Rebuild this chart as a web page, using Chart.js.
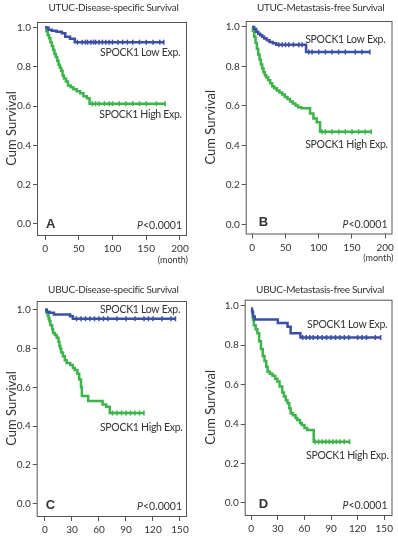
<!DOCTYPE html>
<html>
<head>
<meta charset="utf-8">
<script src="https://cdn.jsdelivr.net/npm/chart.js@4.4.1/dist/chart.umd.min.js"></script>
<style>
body{margin:0;background:#fff;}
#wrap{position:relative;width:398px;height:538px;}
canvas{position:absolute;}
</style>
</head>
<body>
<div id="wrap">
<canvas id="cA" width="199" height="268" style="left:0;top:0"></canvas>
<canvas id="cB" width="199" height="268" style="left:199px;top:0"></canvas>
<canvas id="cC" width="199" height="270" style="left:0;top:268px"></canvas>
<canvas id="cD" width="199" height="270" style="left:199px;top:268px"></canvas>
</div>
<script>
// survival steps (months, cum survival)
const aLowT  = [0, 5, 10, 17, 25, 30, 37, 44, 176];
const aLowS  = [1, 0.988, 0.983, 0.978, 0.97, 0.952, 0.942, 0.925, 0.925];
const aLowC  = [48, 55, 60, 63, 68, 72, 75, 80, 85, 90, 95, 100, 108, 115, 122, 130, 140, 150, 160, 170, 176];
const aHighT = [0, 2, 4, 6, 8, 10, 12, 14, 16, 18, 20, 22, 24, 26, 28, 31, 34, 38, 42, 47, 52, 57, 62, 66, 178];
const aHighS = [1, 0.98, 0.96, 0.945, 0.925, 0.905, 0.885, 0.865, 0.85, 0.83, 0.81, 0.795, 0.78, 0.755, 0.74, 0.725, 0.705, 0.695, 0.685, 0.675, 0.665, 0.65, 0.64, 0.612, 0.612];
const aHighC = [70, 75, 80, 88, 95, 100, 110, 120, 130, 140, 150, 165, 178];

const bLowT  = [0, 3, 6, 9, 12, 15, 18, 22, 26, 31, 36, 81, 177];
const bLowS  = [1, 0.99, 0.975, 0.965, 0.958, 0.95, 0.941, 0.932, 0.924, 0.917, 0.91, 0.873, 0.873];
const bLowC  = [40, 45, 50, 55, 62, 70, 75, 85, 90, 100, 110, 120, 130, 140, 155, 165, 177];
const bHighT = [0, 1, 3, 5, 7, 9, 11, 13, 15, 17, 19, 21, 24, 27, 30, 33, 37, 41, 45, 49, 53, 57, 61, 65, 69, 74, 87, 92, 97, 102, 179];
const bHighS = [1, 0.98, 0.95, 0.92, 0.89, 0.86, 0.835, 0.81, 0.79, 0.77, 0.755, 0.745, 0.73, 0.715, 0.7, 0.69, 0.678, 0.668, 0.658, 0.645, 0.635, 0.622, 0.612, 0.602, 0.594, 0.588, 0.562, 0.536, 0.518, 0.47, 0.47];
const bHighC = [105, 110, 120, 130, 140, 150, 160, 170, 179];

const cLowT  = [0, 2, 5, 10, 28, 31, 145];
const cLowS  = [1, 0.99, 0.985, 0.976, 0.966, 0.954, 0.954];
const cLowC  = [35, 40, 45, 50, 55, 60, 65, 70, 80, 90, 100, 110, 115, 120, 130, 140, 145];
const cHighT = [0, 2, 3, 4, 5, 6, 8, 9, 11, 13, 15, 16, 17, 18, 20, 22, 24, 28, 31, 33, 36, 38, 40, 41, 48, 64, 68, 72, 110];
const cHighS = [1, 0.985, 0.97, 0.955, 0.94, 0.92, 0.9, 0.88, 0.87, 0.855, 0.835, 0.815, 0.8, 0.78, 0.76, 0.74, 0.725, 0.715, 0.7, 0.69, 0.67, 0.64, 0.6, 0.555, 0.53, 0.512, 0.5, 0.468, 0.468];
const cHighC = [75, 80, 85, 90, 95, 100, 105, 110];

const dLowT  = [0, 1, 2, 4, 30, 41, 44.5, 55.5, 146];
const dLowS  = [0.985, 0.97, 0.945, 0.93, 0.912, 0.893, 0.86, 0.838, 0.838];
const dLowC  = [58, 62, 66, 70, 75, 80, 85, 90, 95, 100, 105, 110, 120, 125, 130, 140, 146];
const dHighT = [0, 2, 3, 5, 7, 9, 11, 13, 15, 17, 18.5, 21, 24, 27, 29.5, 32, 35, 37, 39, 41, 43, 44.5, 47, 50, 52, 55, 57, 60, 63, 70.5, 111];
const dHighS = [0.96, 0.93, 0.9, 0.88, 0.86, 0.82, 0.78, 0.745, 0.72, 0.69, 0.665, 0.655, 0.645, 0.63, 0.615, 0.59, 0.56, 0.54, 0.52, 0.505, 0.48, 0.455, 0.445, 0.43, 0.42, 0.405, 0.395, 0.38, 0.37, 0.31, 0.31];
const dHighC = [72, 76, 80, 84, 88, 92, 96, 100, 105, 111];

const yTicks = [0, 0.2, 0.4, 0.6, 0.8, 1.0];
const xTicksUT = [0, 50, 100, 150, 200];
const xTicksUB = [0, 30, 60, 90, 120, 150];

const BLUE = "#3b4fa6";
const GREEN = "#3cb44a";
const TXT = "#333";
const AX = "#555";

Chart.defaults.font.family = "Lato";
Chart.defaults.color = TXT;

const steps = (T,S) => T.map((t,i)=>({x:t, y:S[i]}));
function survAt(T,S,t){
  let v = S[0];
  T.forEach((tt,i)=>{ if(tt<=t) v=S[i]; });
  return v;
}
const censor = (T,S,C) => C.map(t=>({x:t, y:survAt(T,S,t)}));

// box stroke + all the text that sits on the panel
const panelText = {
  id:"panelText",
  beforeDatasetsDraw(chart, args, o){
    const {ctx, chartArea:a} = chart;
    ctx.save();
    ctx.strokeStyle = AX; ctx.lineWidth = 1;
    ctx.strokeRect(a.left+0.5, a.top+0.5, a.right-a.left-1, a.bottom-a.top);
    ctx.restore();
  },
  afterDraw(chart, args, o){
    const {ctx, chartArea:a, scales} = chart;
    ctx.save();
    ctx.fillStyle = TXT;
    ctx.textBaseline = "middle";

    ctx.letterSpacing = "-0.3px";
    ctx.font = "10px Lato";
    ctx.textAlign = "center";
    ctx.fillText(o.title, (a.left+a.right)/2 + 1.5, o.titleY);

    ctx.textAlign = "left";
    ctx.font = "10.5px Lato";
    o.labels.forEach(l=>{
      ctx.fillText(l.text, scales.x.getPixelForValue(l.x), scales.y.getPixelForValue(l.y));
    });
    ctx.letterSpacing = "0px";

    ctx.font = "bold 13px 'Liberation Sans'";
    ctx.fillText(o.letter, a.left + o.letterDx, a.bottom - 11);

    ctx.font = "10.5px Lato";
    const rest = "<0.0001";
    const wr = ctx.measureText(rest).width;
    ctx.textAlign = "right";
    ctx.fillText(rest, a.right - 5, a.bottom - 9);
    ctx.font = "italic 10.5px Lato";
    ctx.fillText("P", a.right - 5 - wr, a.bottom - 9);

    if(o.unit){
      ctx.font = "9px Lato";
      ctx.textAlign = "right";
      ctx.fillText(o.unit, a.right + 1, a.bottom + 25);
    }
    ctx.restore();
  }
};

const panels = [
  {canvas:"cA", title:"UTUC-Disease-specific Survival", letter:"A", letterDx:9, titleY:8,
   box:{l:37, t:22, r:187, b:235}, xMin:-11.9, xMax:210.4, yMin:-0.056, yMax:1.0275, xTicks:xTicksUT, unit:"(month)",
   low:[aLowT,aLowS,aLowC], high:[aHighT,aHighS,aHighC],
   labels:[{text:"SPOCK1 Low Exp.", x:81.5, y:0.87},{text:"SPOCK1 High Exp.", x:80.4, y:0.554}]},
  {canvas:"cB", title:"UTUC-Metastasis-free Survival", letter:"B", letterDx:13, titleY:8,
   box:{l:46.7, t:21, r:195.7, b:233.5}, xMin:-9.8, xMax:211, yMin:-0.0455, yMax:1.03, xTicks:xTicksUT, unit:"(month)",
   low:[bLowT,bLowS,bLowC], high:[bHighT,bHighS,bHighC],
   labels:[{text:"SPOCK1 Low Exp.", x:79.7, y:0.938},{text:"SPOCK1 High Exp.", x:79.7, y:0.406}]},
  {canvas:"cC", title:"UBUC-Disease-specific Survival", letter:"C", letterDx:9, titleY:22,
   box:{l:36.7, t:33, r:187, b:248}, xMin:-9.2, xMax:157.8, yMin:-0.063, yMax:1.045, xTicks:xTicksUB, unit:"",
   low:[cLowT,cLowS,cLowC], high:[cHighT,cHighS,cHighC],
   labels:[{text:"SPOCK1 Low Exp.", x:61.1, y:1.0},{text:"SPOCK1 High Exp.", x:61.1, y:0.395}]},
  {canvas:"cD", title:"UBUC-Metastasis-free Survival", letter:"D", letterDx:14, titleY:22,
   box:{l:45.7, t:31.7, r:195.7, b:247}, xMin:-7.3, xMax:159.3, yMin:-0.061, yMax:1.03, xTicks:xTicksUB, unit:"",
   low:[dLowT,dLowS,dLowC], high:[dHighT,dHighS,dHighC],
   labels:[{text:"SPOCK1 Low Exp.", x:63, y:0.903},{text:"SPOCK1 High Exp.", x:61.9, y:0.238}]}
];

function makePanel(p){
  const el = document.getElementById(p.canvas);
  const W = el.width, H = el.height;
  const curve = (g,color)=>({data:steps(g[0],g[1]), stepped:"before", borderColor:color, borderWidth:2.5, pointRadius:0, fill:false});
  const marks = (g,color)=>({data:censor(g[0],g[1],g[2]), showLine:false, pointStyle:"line", rotation:90, pointRadius:2.5, borderColor:color, borderWidth:1.5});

  new Chart(el, {
    type:"line",
    data:{datasets:[curve(p.low,BLUE), marks(p.low,BLUE), curve(p.high,GREEN), marks(p.high,GREEN)]},
    options:{
      responsive:false, animation:false,
      layout:{padding:{left:0, top:p.box.t, right:W-p.box.r, bottom:0}},
      plugins:{legend:{display:false}, tooltip:{enabled:false}, panelText:p},
      scales:{
        x:{type:"linear", min:p.xMin, max:p.xMax,
           afterFit:s=>{ s.height = H - p.box.b; },
           afterBuildTicks:s=>{ s.ticks = p.xTicks.map(v=>({value:v})); },
           ticks:{font:{size:10}, color:TXT, padding:3, maxRotation:0, autoSkip:false},
           grid:{drawOnChartArea:false, tickLength:5, color:AX},
           border:{display:false}},
        y:{type:"linear", min:p.yMin, max:p.yMax,
           afterFit:s=>{ s.width = p.box.l; },
           afterBuildTicks:s=>{ s.ticks = yTicks.map(v=>({value:v})); },
           ticks:{font:{size:10}, color:TXT, padding:2, callback:v=>v.toFixed(1)},
           grid:{drawOnChartArea:false, tickLength:4, color:AX},
           border:{display:false},
           title:{display:true, text:"Cum Survival", font:{size:13}, color:TXT, padding:{top:4, bottom:0}}}
      }
    },
    plugins:[panelText]
  });
}

panels.forEach(makePanel);
</script>
</body>
</html>
